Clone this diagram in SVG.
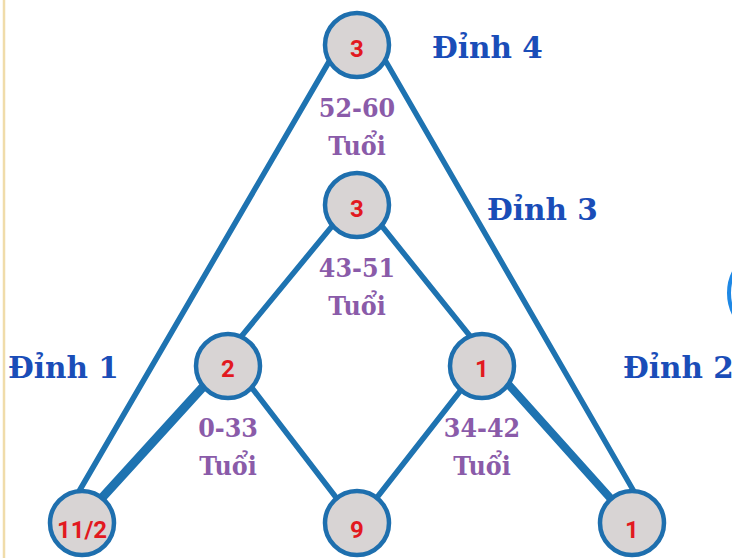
<svg xmlns="http://www.w3.org/2000/svg" width="732" height="558" viewBox="0 0 732 558">
<style>
.edge{stroke:#1e73b1;stroke-linecap:round;fill:none}
.node circle{fill:#d8d4d4;stroke:#1e6fae;stroke-width:4.5}
.num{font-family:Roboto,"Liberation Sans",sans-serif;font-weight:bold;font-size:24px;fill:#e2191f;text-anchor:middle}
.age{font-family:"DejaVu Serif Condensed","DejaVu Serif",serif;font-weight:bold;font-size:26.5px;fill:#8a5ba9;text-anchor:middle}
.vtx{font-family:"DejaVu Serif",serif;font-weight:bold;font-size:29.5px;fill:#1a4db8}
</style>
<rect width="732" height="558" fill="#ffffff"/>
<line x1="4" y1="0" x2="4" y2="558" stroke="#f0dcaa" stroke-width="2.5"/>
<circle cx="775" cy="293" r="46" fill="none" stroke="#1e88e5" stroke-width="4"/>
<g id="connectors">
<line class="edge" x1="330" y1="60" x2="74" y2="500" stroke-width="5.5"/>
<line class="edge" x1="385" y1="60" x2="636" y2="495" stroke-width="5.5"/>
<line class="edge" x1="333" y1="225" x2="240" y2="338" stroke-width="5.5"/>
<line class="edge" x1="381" y1="225" x2="470" y2="336" stroke-width="5.5"/>
<line class="edge" x1="252" y1="388" x2="338" y2="500" stroke-width="5.5"/>
<line class="edge" x1="461" y1="390" x2="375" y2="500" stroke-width="5.5"/>
<line class="edge" x1="202" y1="388" x2="100" y2="500" stroke-width="9"/>
<line class="edge" x1="508" y1="384" x2="612" y2="500" stroke-width="8"/>
</g>
<g id="n-top" class="node"><circle cx="357" cy="45" r="32"/><text class="num" x="357" y="57">3</text></g>
<g id="n-mid" class="node"><circle cx="357" cy="205" r="32"/><text class="num" x="357" y="217">3</text></g>
<g id="n-left" class="node"><circle cx="228" cy="366" r="32"/><text class="num" x="228" y="377">2</text></g>
<g id="n-right" class="node"><circle cx="482" cy="366" r="32"/><text class="num" x="482" y="377">1</text></g>
<g id="n-bl" class="node"><circle cx="82" cy="523" r="32"/><text class="num" x="82" y="538">11/2</text></g>
<g id="n-bm" class="node"><circle cx="357" cy="523" r="32"/><text class="num" x="357" y="538">9</text></g>
<g id="n-br" class="node"><circle cx="632" cy="523" r="32"/><text class="num" x="632" y="538">1</text></g>
<g id="labels">
<text class="age" x="357" y="117">52-60</text>
<text class="age" x="357" y="155">Tuổi</text>
<text class="age" x="357" y="277">43-51</text>
<text class="age" x="357" y="315">Tuổi</text>
<text class="age" x="228" y="437">0-33</text>
<text class="age" x="228" y="475">Tuổi</text>
<text class="age" x="482" y="437">34-42</text>
<text class="age" x="482" y="475">Tuổi</text>
<text class="vtx" x="432" y="58">Đỉnh 4</text>
<text class="vtx" x="487" y="220">Đỉnh 3</text>
<text class="vtx" x="8" y="378">Đỉnh 1</text>
<text class="vtx" x="623" y="378">Đỉnh 2</text>
</g>
</svg>
